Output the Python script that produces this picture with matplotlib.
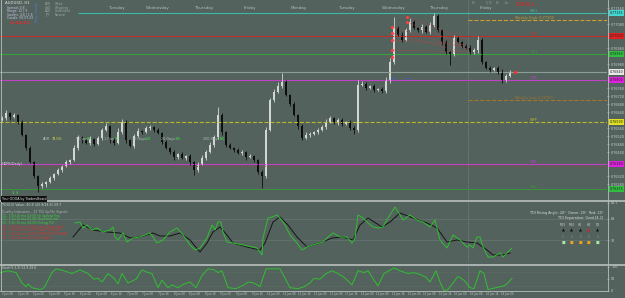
import matplotlib
matplotlib.use("Agg")
import matplotlib.pyplot as plt
import numpy as np

W, H = 625, 298
BG = "#53625d"
TXT = "#b4bdb8"

# ---- H1 candles (closes), first open before bar 0
first_open = 0.76600
closes = [0.76610, 0.76635, 0.76615, 0.76625, 0.76590, 0.76525, 0.76460, 0.76390, 0.76320, 0.76270,
          0.76280, 0.76290, 0.76310, 0.76330, 0.76350, 0.76370, 0.76390, 0.76400, 0.76460, 0.76515,
          0.76500, 0.76485, 0.76505, 0.76480, 0.76510, 0.76550, 0.76570, 0.76500, 0.76485, 0.76540,
          0.76590, 0.76500, 0.76470, 0.76520, 0.76545, 0.76540, 0.76560, 0.76565, 0.76550, 0.76535,
          0.76490, 0.76460, 0.76440, 0.76415, 0.76430, 0.76410, 0.76420, 0.76390, 0.76350, 0.76380,
          0.76410, 0.76440, 0.76475, 0.76515, 0.76625, 0.76540, 0.76475, 0.76460, 0.76450, 0.76435,
          0.76440, 0.76415, 0.76420, 0.76400, 0.76340, 0.76320, 0.76550, 0.76700, 0.76740, 0.76770,
          0.76790, 0.76725, 0.76680, 0.76625, 0.76570, 0.76510, 0.76525, 0.76530, 0.76540, 0.76550,
          0.76565, 0.76590, 0.76610, 0.76590, 0.76600, 0.76580, 0.76590, 0.76560, 0.76550, 0.76775,
          0.76780, 0.76760, 0.76770, 0.76750, 0.76755, 0.76745, 0.76800, 0.76890, 0.77060, 0.77025,
          0.77000, 0.77050, 0.77090, 0.77060, 0.77050, 0.77065, 0.77040, 0.77075, 0.77120, 0.77050,
          0.76990, 0.76940, 0.76930, 0.77010, 0.76990, 0.76970, 0.76960, 0.76940, 0.76950, 0.77000,
          0.76890, 0.76860, 0.76850, 0.76860, 0.76840, 0.76800, 0.76820, 0.76840]
# wick lengths beyond the body, in 0.5 pip steps
wick_up = [2, 3, 1, 2, 1, 2, 1, 2, 1, 1, 2, 1, 2, 1, 2, 1, 2, 1, 3, 2,
           1, 2, 3, 1, 2, 2, 3, 1, 2, 4, 3, 2, 1, 2, 3, 1, 2, 2, 1, 2,
           1, 2, 1, 2, 1, 2, 1, 2, 1, 2, 3, 2, 3, 2, 8, 2, 1, 2, 1, 2,
           2, 1, 2, 1, 1, 2, 3, 2, 3, 4, 9, 2, 1, 2, 1, 2, 3, 2, 1, 2,
           2, 3, 2, 1, 2, 2, 1, 2, 2, 5, 3, 2, 1, 2, 1, 2, 3, 4, 11, 2,
           3, 2, 4, 2, 1, 3, 2, 3, 3, 2, 1, 2, 1, 3, 2, 1, 2, 3, 2, 4,
           2, 1, 2, 1, 2, 3, 2, 2]
wick_dn = [1, 2, 3, 1, 2, 1, 2, 1, 2, 6, 2, 3, 1, 2, 1, 2, 1, 2, 1, 2,
           3, 1, 2, 2, 1, 2, 1, 3, 2, 1, 2, 3, 1, 2, 1, 2, 1, 2, 2, 1,
           2, 1, 2, 3, 2, 1, 2, 3, 5, 2, 1, 2, 1, 2, 2, 3, 2, 1, 2, 1,
           2, 3, 1, 2, 2, 12, 2, 1, 2, 1, 2, 1, 2, 1, 3, 2, 1, 2, 1, 2,
           1, 2, 1, 2, 3, 2, 1, 2, 4, 2, 1, 2, 1, 2, 1, 2, 2, 3, 2, 1,
           2, 1, 2, 1, 2, 3, 1, 2, 2, 2, 3, 2, 11, 2, 1, 2, 1, 2, 2, 3,
           2, 1, 2, 1, 2, 3, 2, 1]
PIP = 0.00005

# ---- pivot / level lines
level_names = ["WR1", "Weekly High: 0.77100", "DR1", "DS1", "", "DPP", "Weekly Low: 0.76700", "WPP", "WS1", "", "WS2"]
level_prices = [0.77135, 0.77100, 0.77020, 0.76930, 0.76840, 0.76800, 0.76700, 0.76590, 0.76380, 0.76370, 0.76255]
level_start = [19, 116.5, -1, -1, -1, -1, 116.5, -1, -1, -1, -1]
level_colors = ["#3cb8a8", "#c8a030", "#c03028", "#34a040", "#8c9c96", "#c040c8", "#a07828", "#b8b828", "#c040c8", "#a04040", "#3c9040"]
level_styles = ["-", "--", "-", "-", "-", "-", "--", "--", "-", ":", "-"]
box_colors = ["#40d8d0", None, "#e02020", "#30c040", "#e8e8e8", "#e020e0", None, "#e0e020", "#e020e0", None, "#30c040"]

day_names = ["Tuesday", "Wednesday", "Thursday", "Friday", "Monday", "Tuesday", "Wednesday", "Thursday", "Friday"]
day_bars = [28.5, 39, 50.5, 62, 74.25, 86, 98, 109.25, 121]

# ---- TDI (green = RSI price line, black = trade signal line)
tdi_green_t = [18.25, 19.5, 20.25, 21.25, 22.5, 23.75, 25.25, 27, 27.75, 28.25, 29, 30.25, 31.25, 32.75, 34.5, 37,
               37.75, 38.75, 40.25, 42, 43.75, 45.25, 47, 48.25, 49.5, 51.25, 52.5, 53.25, 54, 54.75, 55.25, 56.25,
               57.75, 60.25, 62.5, 63.75, 64.5, 65, 65.25, 66.5, 67.5, 68.75, 69.5, 70.75, 72, 73.75, 75, 76.25,
               77.75, 80.25, 81.5, 82.75, 84.5, 86.25, 87.5, 88.25, 89, 90.25, 91.5, 92.75, 94, 95.25, 96.5, 98.25,
               99.5, 100.25, 102, 103.75, 105.25, 107, 108.25, 109.5, 111.25, 112.75, 114.5, 116.25, 117, 117.75,
               118.75, 119.5, 120.25, 121.5, 122.75, 124.5, 125.25, 127.5]
tdi_green = [59, 60, 54, 57, 52, 54, 50, 52, 55, 45, 42, 49, 40, 44, 45, 49,
             45, 39, 42, 50, 54, 47, 37, 32, 34, 44, 57, 52, 60, 60, 50, 40,
             39, 37, 35, 34, 30, 27, 44, 64, 65, 67, 64, 57, 47, 39, 32, 35,
             37, 40, 45, 49, 45, 45, 39, 44, 67, 64, 59, 55, 54, 55, 64, 75,
             67, 62, 67, 62, 60, 55, 62, 42, 34, 47, 42, 35, 37, 34,
             45, 45, 35, 25, 25, 29, 25, 34]
tdi_black_t = [17.75, 20.25, 22.75, 26.25, 29.5, 32, 34.5, 37.75, 39.5, 42, 44.5, 47, 49.5, 51.25, 52.75, 54.5,
               56.25, 57.75, 61.25, 64.5, 65.75, 67.75, 69.5, 71.5, 73.75, 76.25, 79.5, 82.5, 85.25, 87.75, 89.5,
               91.5, 95, 97, 99.5, 102.75, 106.25, 108.75, 111.25, 113.75, 116.25, 118.75, 121.25, 122.75, 125.25, 127]
tdi_black = [45, 57, 52, 50, 49, 44, 45, 49, 46, 46, 49, 42, 30, 39, 50, 55,
             47, 39, 35, 32, 39, 60, 65, 57, 45, 35, 39, 44, 45, 42, 57,
             64, 55, 60, 69, 64, 59, 54, 40, 42, 40, 39, 32, 27, 27, 29]

# ---- Stochastic
stoch_t = [-0.5, 1.5, 3.5, 5, 6, 6.5, 7.5, 9.5, 10.5, 12.5, 13.5, 15.5, 17.5, 19.5, 21.5, 23, 24, 25, 26.5, 28,
           29, 30, 31.5, 33.5, 35, 36.5, 37.5, 39, 40, 41.5, 42.5, 44, 45.5, 47, 48.5, 50, 51.5, 53, 54, 55,
           56.5, 58.5, 60.5, 61.5, 63, 64.5, 66, 68.5, 69.5, 71, 72, 74, 75.5, 77, 78, 79.5, 81, 82.5, 84, 85.5,
           87.5, 89, 90.5, 91.5, 93, 94, 95.5, 98, 99.5, 101.5, 103, 104.5, 106, 107, 108.5, 109.5, 110.5, 111.5,
           114, 115.5, 117, 118, 119.5, 120.5, 121.5, 123.5, 125.5, 126.5, 127.5]
stoch = [76, 84, 76, 32, 16, 28, 12, 4, 12, 76, 92, 84, 72, 88, 72, 48, 52, 36, 72, 52,
         28, 72, 32, 48, 88, 76, 72, 12, 44, 12, 24, 12, 28, 36, 12, 64, 92, 88, 76, 84,
         12, 8, 24, 36, 32, 16, 92, 92, 92, 44, 12, 8, 16, 32, 52, 48, 72, 84, 72, 56,
         24, 84, 76, 84, 44, 20, 72, 96, 84, 72, 76, 68, 56, 36, 84, 36, 0, 4,
         60, 44, 12, 8, 84, 72, 4, 12, 20, 32, 52]

time_labels = ["2 Jun 08", "2 Jun 16", "5 Jun 00", "5 Jun 08", "5 Jun 16", "6 Jun 00",
               "6 Jun 08", "6 Jun 16", "7 Jun 00", "7 Jun 08", "7 Jun 16", "8 Jun 00",
               "8 Jun 08", "8 Jun 16", "9 Jun 00", "9 Jun 08", "9 Jun 16", "12 Jun 00",
               "12 Jun 08", "12 Jun 16", "13 Jun 00", "13 Jun 08", "13 Jun 16", "14 Jun 00",
               "14 Jun 08", "14 Jun 16", "15 Jun 00", "15 Jun 08", "15 Jun 16", "16 Jun 00",
               "16 Jun 08", "16 Jun 16", "19 Jun 00"]

tf_names = ["M15", "M30", "H1", "H4", "D1"]
tf_arrow = ["#101010", "#101010", "#101010", "#e02020", "#101010"]
tf_square = ["#a8e8a0", "#f0a020", "#f0a020", "#f0a020", "#a8e8a0"]


def at(x, y):
    return x / W, 1 - y / H


fig = plt.figure(figsize=(W / 100, H / 100), dpi=100, facecolor=BG)
XL = (-0.5, 151.25)

ax = fig.add_axes([0, 98 / H, 607 / W, 200 / H], facecolor=BG)
ax2 = fig.add_axes([0, 36 / H, 607 / W, 60 / H], facecolor=BG)
ax3 = fig.add_axes([0, 7 / H, 607 / W, 25 / H], facecolor=BG)
for a in (ax, ax2, ax3):
    a.set_xlim(*XL)
    for s in a.spines.values():
        s.set_visible(False)
    a.set_xticks([])
    a.yaxis.tick_right()
    a.tick_params(axis="y", length=1.5, width=0.4, colors="#c8d0cc", labelsize=2.4, pad=1.5)
    a.axvline(116.5, color="#909c98", lw=0.5, ls=":")

ax.set_ylim(0.7620, 0.7720)

# levels
boxed = []
for name, p, st, col, ls, bc in zip(level_names, level_prices, level_start, level_colors, level_styles, box_colors):
    ax.hlines(p, st, XL[1], colors=col, linestyles=ls, lw=0.8)
    if name:
        ax.text(133, p + 0.00002, name, color=col, fontsize=2.5, ha="center", va="bottom")
    if bc:
        boxed.append(p)
        ax.text(1.004, p, f"{p:.5f}", transform=ax.get_yaxis_transform(), fontsize=2.3, color="#202020",
                va="center", ha="left", clip_on=False,
                bbox=dict(boxstyle="square,pad=0.2", fc=bc, ec="none"))

# price scale, leaving room for the coloured level boxes
ticks = [v for v in np.arange(0.7624, 0.7719, 0.0004) if min(abs(v - b) for b in boxed) > 0.00022]
ax.set_yticks(ticks)
ax.set_yticklabels([f"{v:.5f}" for v in ticks])

# candles
opens = [first_open] + closes[:-1]
xs = np.arange(len(closes))
o = np.array(opens)
c = np.array(closes)
top = np.maximum(o, c)
bot = np.minimum(o, c)
hi = top + np.array(wick_up) * PIP
lo = bot - np.array(wick_dn) * PIP
bull = c >= o
cols = np.where(bull, "#d2d6d3", "#0e0e0e")
ax.vlines(xs, lo, hi, colors=cols, lw=0.6)
ax.bar(xs, np.maximum(top - bot, 0.00002), bottom=bot, width=0.6, color=cols, lw=0)

# day names along the top
for d, t in zip(day_names, day_bars):
    ax.text(t, 0.77148, d, color=TXT, fontsize=3, ha="center", va="bottom")

# red fibo / channel drawings on Thursday
fan_start = [(97.5, 0.77065), (97.5, 0.77035), (97.5, 0.77000), (97.5, 0.76950), (101.25, 0.77115), (101.25, 0.77090)]
fan_end = [(117, 0.76950), (114.5, 0.76945), (115.75, 0.76975), (117, 0.76940), (116.5, 0.77000), (116.5, 0.76965)]
for (x0, y0), (x1, y1) in zip(fan_start, fan_end):
    ax.plot([x0, x1], [y0, y1], color="#d04040", lw=0.5, ls=":")
ax.scatter([p[0] for p in fan_start] + [97.5], [p[1] for p in fan_start] + [0.76915], s=1.5, color="#ff4040", zorder=5)
ax.scatter([128.25], [0.76840], s=2, color="#ff3030", zorder=5)
ax.plot([97.25, 98.25], [0.76812, 0.76812], color="#4060d0", lw=0.6)
ax.plot([100.75, 101.75], [0.76812, 0.76812], color="#4060d0", lw=0.6)

# ADR row
adr = [(43, "ADR", TXT), (52, "78.0%", "#e0e040"), (76, "5 Days", TXT), (87, "98", "#40e040"),
       (104, "1 Day", TXT), (115, "96", "#40e040"), (132, "10 Days", TXT), (145, "108", "#40e040"),
       (161, "20 Days", TXT), (175, "135", "#40e040"), (203, "200 Days", TXT), (219, "136", "#40e040")]
for x, s, col in adr:
    fig.text(*at(x, 139), s, fontsize=2.4, color=col, va="center")
fig.text(*at(2, 164), "HDPR(Daily)", fontsize=2.4, color="#e8d0e8", va="center")
fig.text(*at(12, 193), r"\$ \$", fontsize=3, color="#40e040", va="center")
fig.text(*at(2, 199), "Your OOOA by TradersBoard", fontsize=2.3, color="#e0e0e0", va="center",
         bbox=dict(boxstyle="square,pad=0.25", fc="#101010", ec="none"))

# top-left info block
fig.text(*at(5, 3.5), "AUDUSD, H1", fontsize=2.8, color="#e0e4e2", va="center")
for i, s in enumerate(["Spread: 0.8", "Range: 12 | 9", "Swaths: 4.8 | 1.8", "Candle: 00:07:23"]):
    fig.text(*at(7, 7.5 + 3.6 * i), s, fontsize=2.2, color="#c8c4e4", va="center")
fig.text(*at(10, 23.5), "-0:54:12", fontsize=3.2, color="#e82828", va="center", weight="bold")
fig.text(*at(37, 12), "Daily Change", fontsize=2.2, color="#5878d0", va="center", ha="center", rotation=90)
for i, (a_, b_) in enumerate([("EUR", "Weak"), ("USD", "Weighing"), ("AUD", "Undecided"), ("JPY", "Neutral")]):
    fig.text(*at(45, 4 + 3.6 * i), a_, fontsize=2.2, color="#9ca8a2", va="center")
    fig.text(*at(55, 4 + 3.6 * i), b_, fontsize=2.2, color="#9ca8a2", va="center")
for x, s in [(472, "H"), (486, "1 D"), (496, "Hi"), (505, "Lo")]:
    fig.text(*at(x, 2.5), s, fontsize=2.3, color="#a0aaa6", va="center")
fig.text(*at(514, 5), "17841s", fontsize=4, color="#e82020", va="center")

# TDI panel
ax2.set_ylim(20, 80)
for lv in (63, 42):
    ax2.axhline(lv, color="#6c7a74", lw=0.4)
ax2.set_yticks([79, 63, 42])
ax2.set_yticklabels(["81.7", "68", "32"])
ax2.plot(tdi_black_t, tdi_black, color="#141414", lw=0.7)
ax2.plot(tdi_green_t, tdi_green, color="#30c030", lw=0.7)
fig.text(*at(2, 204.5), "TDI(13) Value: 40.8 (43.9/34.5) 29.7", fontsize=2.3, color="#d0d6d2", va="center")
fig.text(*at(2, 211.5), "Quality Indicators - 13 TDI Up/Dn Signals", fontsize=2.3, color="#a8b2ac", va="center")
leg_green = ["(1) - 3 Vol 16 tms (19.0%) In Uptrend Rng",
             "(2) - 3 Vol 16 tms (55.0%) Buy/Hold Limit",
             "(3) - 5 Vol 16 tms (26.0%) Energy Pull"]
leg_red = ["(4) - 1 Vol 16 tms (22.0%) Low / Weak Signal",
           "(5) - 1 Vol 16 tms (11.0%) Wait Pull Signal",
           "(6) - 1 Vol 16 tms (19.0%) INSUFFICIENT TREND",
           "(7) - 1 Vol 16 tms (8.0%) Low Signal"]
for i, s in enumerate(leg_green):
    fig.text(*at(2, 215.5 + 3.7 * i), s, fontsize=2.0, color="#40d040", va="center")
for i, s in enumerate(leg_red):
    fig.text(*at(2, 226.6 + 3.7 * i), s, fontsize=2.0, color="#e03030", va="center")
fig.text(*at(603, 213), "TDI Rising Angle: 20°  Green: 20°  Red: 20°", fontsize=2.4, color="#d8dcda", va="center", ha="right")
fig.text(*at(603, 218.5), "TDI Separation: Good [4.2]", fontsize=2.4, color="#d8dcda", va="center", ha="right")
for i, (n, ac, sc) in enumerate(zip(tf_names, tf_arrow, tf_square)):
    x = 563 + 8.6 * i
    fig.text(*at(x, 225), n, fontsize=2.2, color="#c8d0cc", va="center", ha="center")
    fig.text(*at(x, 231), "\u25B2", fontsize=2.8, color=ac, va="center", ha="center")
    fig.text(*at(x, 237), "0", fontsize=2.0, color="#8a968f", va="center", ha="center")
    fig.text(*at(x, 242.5), "\u25A0", fontsize=2.8, color=sc, va="center", ha="center")

# Stochastic panel
ax3.set_ylim(-2, 104)
for lv in (80, 20):
    ax3.axhline(lv, color="#6c7a74", lw=0.4, ls=":")
ax3.set_yticks([100, 50, 0])
ax3.plot(stoch_t, stoch, color="#30c030", lw=0.7)
fig.text(*at(2, 268), "Stoch(5,3,3) 52.9 49.8", fontsize=2.2, color="#c8d0cc", va="center")

# time axis
for i, s in enumerate(time_labels):
    t = i * 3.9
    fig.text(*at(2 + 4 * t, 294.5), s, fontsize=1.9, color="#c0c8c4", va="center")

# frame / separators
for y in (201, 264.5):
    fig.add_artist(plt.Line2D([0, 1], [1 - y / H] * 2, color="#b8c0bc", lw=1.2))
fig.add_artist(plt.Line2D([607.5 / W] * 2, [1 - 291 / H, 1], color="#b8c0bc", lw=0.6))
fig.add_artist(plt.Line2D([0, 607.5 / W], [1 - 291 / H] * 2, color="#b8c0bc", lw=0.6))
fig.add_artist(plt.Line2D([0.5 / W] * 2, [1 - 291 / H, 1], color="#b8c0bc", lw=0.6))

fig.savefig("out.png", dpi=100, facecolor=BG)
